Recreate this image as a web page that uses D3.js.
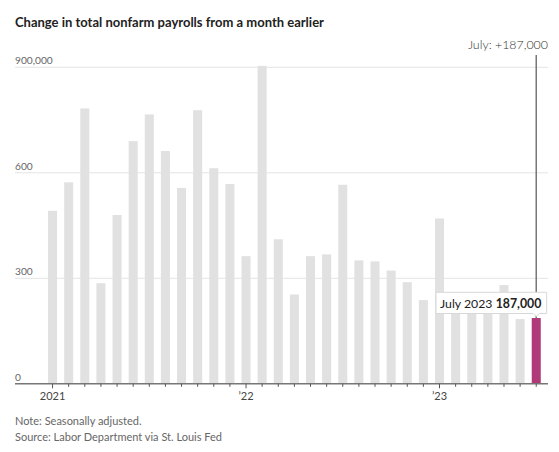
<!DOCTYPE html>
<html>
<head>
<meta charset="utf-8">
<script src="https://cdn.jsdelivr.net/npm/d3@7"></script>
<style>
  body { margin: 0; background: #fff; }
  svg { display: block; font-family: Lato, "Noto Sans", sans-serif; }
</style>
</head>
<body>
<svg id="chart" width="559" height="452"></svg>
<script>
// Months Jan 2021 .. Jul 2023
const months = [
  "2021-01","2021-02","2021-03","2021-04","2021-05","2021-06","2021-07","2021-08","2021-09","2021-10","2021-11","2021-12",
  "2022-01","2022-02","2022-03","2022-04","2022-05","2022-06","2022-07","2022-08","2022-09","2022-10","2022-11","2022-12",
  "2023-01","2023-02","2023-03","2023-04","2023-05","2023-06","2023-07"
];
// Change in payrolls, thousands
const values = [
  492, 573, 783, 286, 480, 690, 766, 662, 557, 778, 613, 568,
  363, 904, 411, 254, 363, 368, 566, 351, 348, 322, 289, 238,
  470, 248, 217, 217, 281, 184, 187
];
const yTicks = [0, 300, 600, 900];
const yTickLabels = ["0", "300", "600", "900,000"];
const yearTicks = ["2021-01", "2022-01", "2023-01"];
const yearLabels = ["2021", "\u201922", "\u201923"];

const title = "Change in total nonfarm payrolls from a month earlier";
const annotation = "July: +187,000";
const tipLabel = "July 2023";
const tipValue = "187,000";
const notes = ["Note: Seasonally adjusted.", "Source: Labor Department via St. Louis Fed"];

const svg = d3.select("#chart");
const left = 15, right = 548;
const x = d3.scaleBand().domain(months).range([44.5, 544.3]).paddingInner(0.44).paddingOuter(0.22);
const y = d3.scaleLinear().domain([0, 900]).range([383.8, 67.3]);

// title
svg.append("text").attr("x", 15).attr("y", 27)
  .attr("font-size", 13).attr("font-weight", 700).attr("fill", "#222")
  .text(title);

// gridlines
svg.append("g").selectAll("line").data(yTicks.filter(d => d > 0)).join("line")
  .attr("x1", left).attr("x2", right)
  .attr("y1", d => y(d)).attr("y2", d => y(d))
  .attr("stroke", "#e4e4e4").attr("stroke-width", 1);

// tick labels
svg.append("g").selectAll("text").data(yTicks).join("text")
  .attr("x", left).attr("y", d => y(d) - 3)
  .attr("font-size", 10.2).attr("fill", "#666")
  .text((d, i) => yTickLabels[i]);

// bars
const last = months[months.length - 1];
svg.append("g").selectAll("rect").data(months).join("rect")
  .attr("x", d => x(d)).attr("width", x.bandwidth())
  .attr("y", (d, i) => y(values[i]))
  .attr("height", (d, i) => y(0) - y(values[i]))
  .attr("fill", d => d === last ? "#b0397a" : "#e1e1e1");

// x axis
const xAxis = svg.append("g").attr("transform", `translate(0,${y(0)})`);
xAxis.append("line").attr("x1", left).attr("x2", right).attr("stroke", "#777").attr("stroke-width", 1.5);
xAxis.selectAll("line.tick").data(months).join("line").attr("class", "tick")
  .attr("x1", d => x(d) + x.bandwidth() / 2).attr("x2", d => x(d) + x.bandwidth() / 2)
  .attr("y1", 0).attr("y2", d => yearTicks.includes(d) ? 4.5 : 3)
  .attr("stroke", "#555").attr("stroke-width", 1);
xAxis.selectAll("text").data(yearTicks).join("text")
  .attr("x", d => x(d) + x.bandwidth() / 2).attr("y", 16.5)
  .attr("text-anchor", "middle").attr("font-size", 11).attr("fill", "#444")
  .text((d, i) => yearLabels[i]);

// annotation line
const lx = x(last) + x.bandwidth() / 2;
svg.append("line").attr("x1", lx).attr("x2", lx).attr("y1", 55).attr("y2", y(values[values.length - 1]))
  .attr("stroke", "#777").attr("stroke-width", 1.5);
svg.append("text").attr("x", 548).attr("y", 49).attr("text-anchor", "end")
  .attr("font-size", 12.4).attr("font-weight", 300).attr("fill", "#333").text(annotation);

// tooltip
const tipG = svg.append("g");
const tb = { x0: 436, x1: 546.7, y0: 292.3, y1: 313.5 };
tipG.append("path")
  .attr("d", `M${tb.x0},${tb.y0}H${tb.x1}V${tb.y1}H${lx + 3}L${lx},${tb.y1 + 3}L${lx - 3},${tb.y1}H${tb.x0}Z`)
  .attr("fill", "#fff").attr("stroke", "#d8d8d8").attr("stroke-width", 1);
const tt = tipG.append("text").attr("x", 440).attr("y", 307.5).attr("font-size", 12.3).attr("fill", "#222");
tt.append("tspan").text(tipLabel + " ");
tt.append("tspan").attr("font-weight", 700).text(tipValue);

// notes
svg.append("g").selectAll("text").data(notes).join("text")
  .attr("x", 15).attr("y", (d, i) => 425 + i * 15.5)
  .attr("font-size", 11).attr("fill", "#666").text(d => d);
</script>
</body>
</html>
